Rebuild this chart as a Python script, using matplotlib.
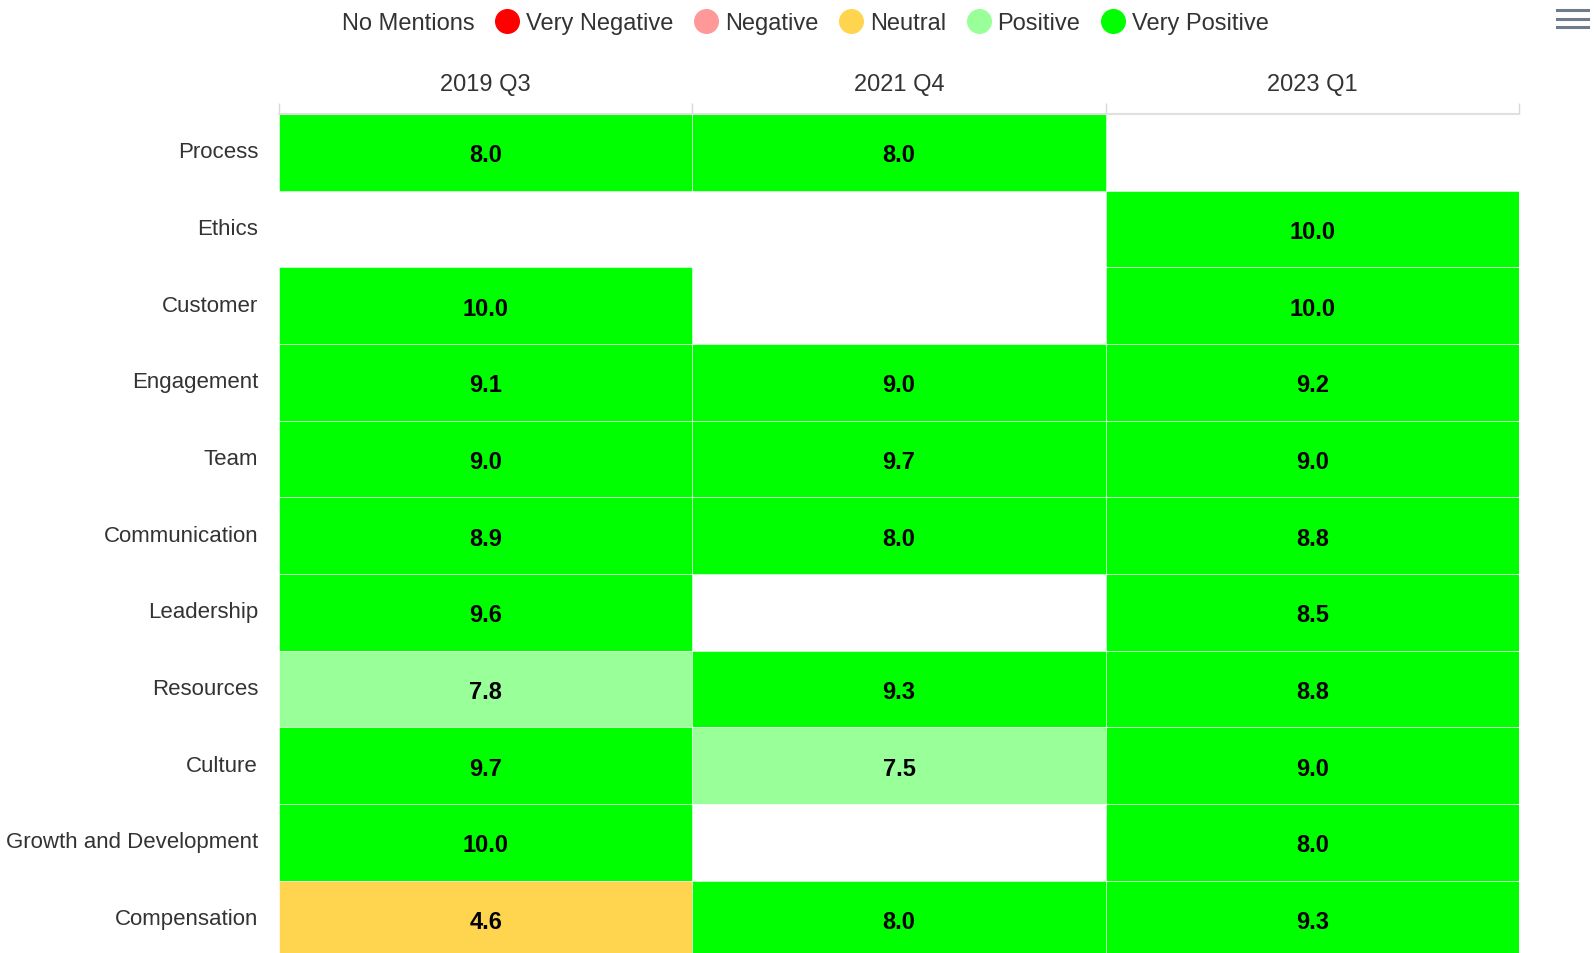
import matplotlib.pyplot as plt
import matplotlib.transforms as mtransforms
import numpy as np
from matplotlib.lines import Line2D
from matplotlib.patches import Rectangle

plt.rcParams["font.family"] = ["Liberation Sans", "DejaVu Sans"]

periods = ["2019 Q3", "2021 Q4", "2023 Q1"]
topics = ["Process", "Ethics", "Customer", "Engagement", "Team", "Communication",
          "Leadership", "Resources", "Culture", "Growth and Development", "Compensation"]
# None = no mentions in that period
scores_2019q3 = [8.0, None, 10.0, 9.1, 9.0, 8.9, 9.6, 7.8, 9.7, 10.0, 4.6]
scores_2021q4 = [8.0, None, None, 9.0, 9.7, 8.0, None, 9.3, 7.5, None, 8.0]
scores_2023q1 = [None, 10.0, 10.0, 9.2, 9.0, 8.8, 8.5, 8.8, 9.0, 8.0, 9.3]

legend_names = ["No Mentions", "Very Negative", "Negative", "Neutral", "Positive", "Very Positive"]
legend_colors = ["#ffffff", "#ff0000", "#ff9999", "#ffd54f", "#99ff99", "#00ff00"]

TEXT = "#333333"


def score_color(v):
    if v is None:
        return None
    if v >= 8:
        return "#00ff00"
    if v >= 6:
        return "#99ff99"
    if v >= 4:
        return "#ffd54f"
    if v >= 2:
        return "#ff9999"
    return "#ff0000"


fig = plt.figure(figsize=(15.94, 9.54), dpi=100)
ax = fig.add_axes([0.175, -0.0045, 0.778, 0.884])

columns = [scores_2019q3, scores_2021q4, scores_2023q1]
for ci, col in enumerate(columns):
    for ri, v in enumerate(col):
        c = score_color(v)
        if c is None:
            continue
        ax.add_patch(Rectangle((ci, ri), 1, 1, facecolor=c, edgecolor="white", lw=0.4))
        ax.text(ci + 0.5, ri + 0.535, f"{v:.1f}", ha="center", va="center",
                fontsize=17, fontweight="bold", color="black")

ax.set_xlim(0, len(periods))
ax.set_ylim(len(topics), 0)

ax.set_yticks(np.arange(len(topics)) + 0.5)
ax.set_yticklabels(topics, fontsize=16, color=TEXT)
ax.tick_params(axis="y", length=0, pad=15)
shift = mtransforms.ScaledTranslation(0, 3 / 100, fig.dpi_scale_trans)
for lab in ax.get_yticklabels():
    lab.set_transform(lab.get_transform() + shift)

ax.xaxis.tick_top()
ax.set_xticks(np.arange(len(periods) + 1))
ax.set_xticklabels([])
ax.set_xticks(np.arange(len(periods)) + 0.5, minor=True)
ax.set_xticklabels(periods, minor=True, fontsize=17, color=TEXT)
ax.tick_params(axis="x", which="major", length=8, width=1, color="#d8d8d8", direction="out")
ax.tick_params(axis="x", which="minor", length=0, pad=14)

for side in ["left", "right", "bottom"]:
    ax.spines[side].set_visible(False)
ax.spines["top"].set_color("#e0e0e0")
ax.spines["top"].set_linewidth(1.5)

handles = [Line2D([], [], marker="o", ls="", markersize=17, markerfacecolor=c,
                  markeredgecolor=c) for c in legend_colors]
fig.legend(handles, legend_names, loc="center", bbox_to_anchor=(0.5 - 7 / 1594, 1 - 24 / 954),
           ncol=6, frameon=False, fontsize=17, handlelength=1.0, handletextpad=0.3,
           columnspacing=0.88, labelcolor=TEXT)

# menu icon, top right
for y in [11, 19.5, 28]:
    fig.add_artist(Line2D([1557 / 1594, 1588 / 1594], [1 - y / 954, 1 - y / 954],
                          color="#6e7b8b", lw=2.2, transform=fig.transFigure))

fig.savefig("out.png", dpi=100)
